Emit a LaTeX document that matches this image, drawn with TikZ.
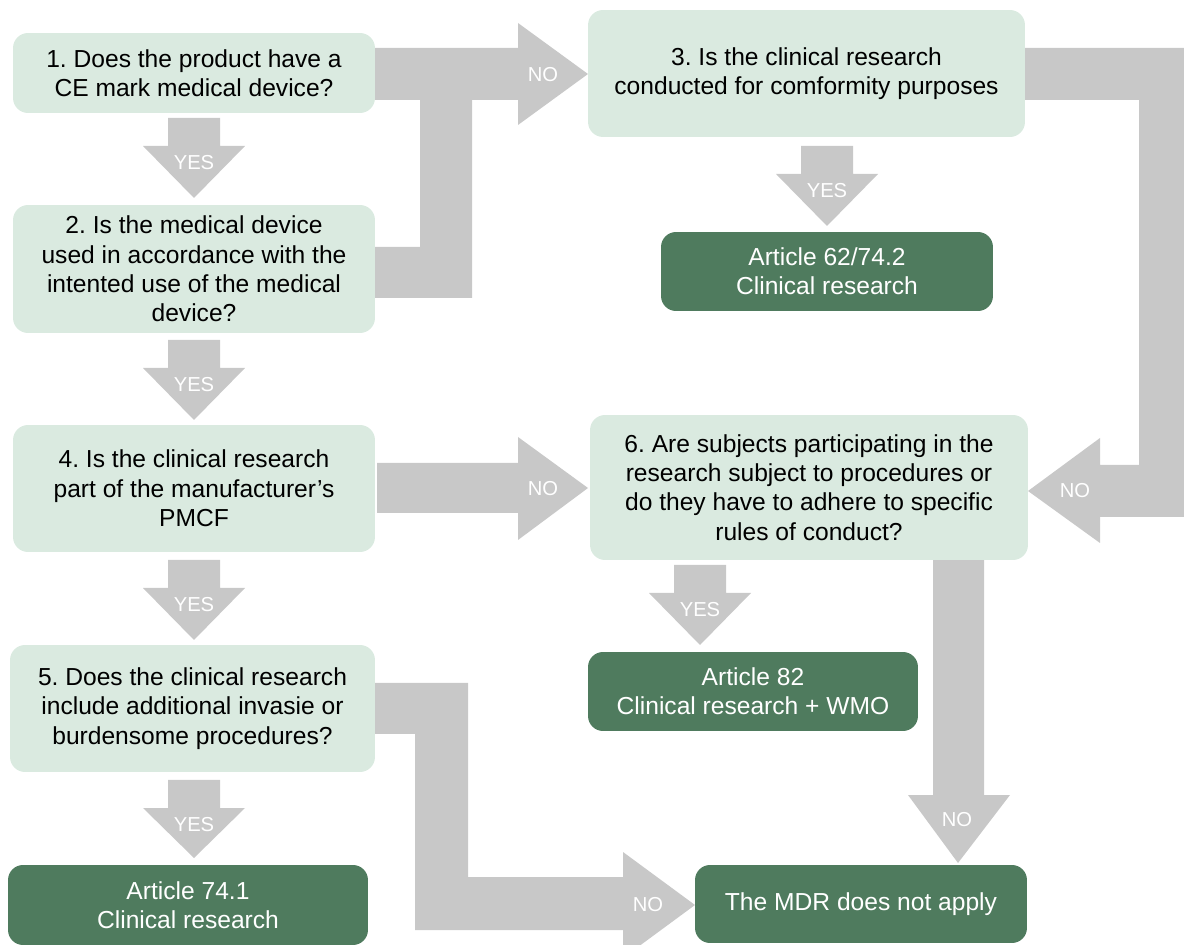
\documentclass[tikz,border=0pt]{standalone}
\usepackage{fontspec}
\setmainfont{Liberation Sans}
\usetikzlibrary{positioning}
\frenchspacing

\definecolor{paleGreen}{HTML}{DAEAE0}
\definecolor{darkGreen}{HTML}{4F7B5E}
\definecolor{arrowGray}{HTML}{C8C8C8}

\tikzset{
  question/.style={fill=paleGreen, rounded corners=0.3cm, align=center, inner sep=0pt,
    font=\fontsize{14}{16.7}\selectfont},
  outcome/.style={question, fill=darkGreen, text=white},
  yeslbl/.style={text=white, font=\fontsize{11.5}{12}\selectfont},
  nolbl/.style={text=white, font=\fontsize{11.5}{12}\selectfont},
}

% block arrow pointing down: x, top, tip, label name
\newcommand{\yesarrow}[4]{%
  \fill[arrowGray] (#1-26,#2) -- (#1+26,#2) -- (#1+26,#2+28) -- (#1+51,#2+28)
    -- (#1,#3) -- (#1-51,#2+28) -- (#1-26,#2+28) -- cycle;
  \node[yeslbl] (#4) at (#1,#2+45) {YES};
}

\begin{document}
\begin{tikzpicture}[x=0.02cm, y=-0.02cm]
    \useasboundingbox (0,0) rectangle (1184,945);
    \clip (0,0) rectangle (1184,945);

    % YES arrows
    \yesarrow{194}{118}{198}{yes1}
    \yesarrow{194}{340}{420}{yes2}
    \yesarrow{194}{560}{640}{yes4}
    \yesarrow{194}{780}{858}{yes5}
    \yesarrow{827}{146}{226}{yes3}
    \yesarrow{700}{565}{645}{yes6}

    % NO: 1 and 2 to 3
    \fill[arrowGray] (375,48) -- (518,48) -- (518,23) -- (588,74) -- (518,125)
        -- (518,100) -- (472,100) -- (472,298) -- (375,298) -- (375,247)
        -- (420,247) -- (420,100) -- (375,100) -- cycle;
    \node[nolbl] (no12) at (543,75) {NO};

    % NO: 3 to 6
    \fill[arrowGray] (1025,48) -- (1184,48) -- (1184,517) -- (1100,517)
        -- (1100,543) -- (1028,491) -- (1100,438) -- (1100,465) -- (1139,465)
        -- (1139,100) -- (1025,100) -- cycle;
    \node[nolbl] (no3) at (1075,491) {NO};

    % NO: 4 to 6
    \fill[arrowGray] (377,463) -- (518,463) -- (518,437) -- (588,488)
        -- (518,540) -- (518,513) -- (377,513) -- cycle;
    \node[nolbl] (no4) at (543,489) {NO};

    % NO: 5 to MDR
    \fill[arrowGray] (375,683) -- (468,683) -- (468,877) -- (623,877)
        -- (623,852) -- (695,905) -- (623,958) -- (623,930) -- (415,930)
        -- (415,734) -- (375,734) -- cycle;
    \node[nolbl] (no5) at (648,905) {NO};

    % NO: 6 to MDR
    \fill[arrowGray] (933,560) -- (984,560) -- (984,795) -- (1010,795)
        -- (958,863) -- (908,795) -- (933,795) -- cycle;
    \node[nolbl] (no6) at (957,820) {NO};

    % Vragen
    \node[question, minimum width=7.24cm, minimum height=1.6cm] (q1) at (194,73)
        {1. Does the product have a\\CE mark medical device?};
    \node[question, minimum width=7.24cm, minimum height=2.56cm] (q2) at (194,269)
        {2. Is the medical device\\used in accordance with the\\intented use of the medical\\device?};
    \node[question, minimum width=8.74cm, minimum height=2.54cm] (q3) at (806.5,73.5)
        {3. Is the clinical research\\conducted for comformity purposes};
    \node[question, minimum width=7.24cm, minimum height=2.54cm] (q4) at (194,488.5)
        {4. Is the clinical research\\part of the manufacturer's\\PMCF};
    \node[question, minimum width=7.3cm, minimum height=2.54cm] (q5) at (192.5,708.5)
        {5. Does the clinical research\\include additional invasie or\\burdensome procedures?};
    \node[question, minimum width=8.76cm, minimum height=2.9cm] (q6) at (809,487.5)
        {6. Are subjects participating in the\\research subject to procedures or\\do they have to adhere to specific\\rules of conduct?};

    % Uitkomsten
    \node[outcome, minimum width=6.64cm, minimum height=1.58cm] (art62) at (827,271.5)
        {Article 62/74.2\\Clinical research};
    \node[outcome, minimum width=6.6cm, minimum height=1.58cm] (art82) at (753,691.5)
        {Article 82\\Clinical research + WMO};
    \node[outcome, minimum width=7.2cm, minimum height=1.6cm] (art74) at (188,905)
        {Article 74.1\\Clinical research};
    \node[outcome, minimum width=6.64cm, minimum height=1.56cm] (mdr) at (861,904)
        {The MDR does not apply};
\end{tikzpicture}
\end{document}
